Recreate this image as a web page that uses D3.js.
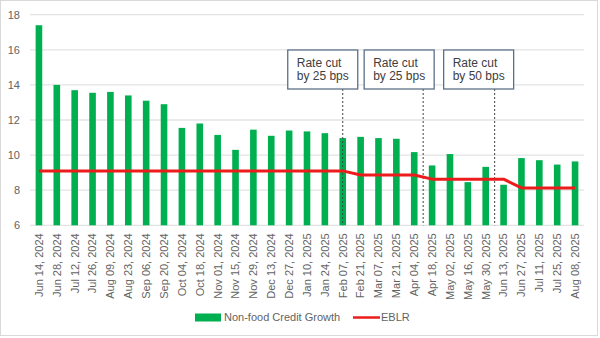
<!DOCTYPE html>
<html><head><meta charset="utf-8">
<script src="https://cdn.jsdelivr.net/npm/d3@7"></script>
<style>body{margin:0;background:#fff}svg{display:block}</style>
</head><body>
<script>
const categories = ["Jun 14, 2024","Jun 28, 2024","Jul 12, 2024","Jul 26, 2024","Aug 09, 2024","Aug 23, 2024","Sep 06, 2024","Sep 20, 2024","Oct 04, 2024","Oct 18, 2024","Nov 01, 2024","Nov 15, 2024","Nov 29, 2024","Dec 13, 2024","Dec 27, 2024","Jan 10, 2025","Jan 24, 2025","Feb 07, 2025","Feb 21, 2025","Mar 07, 2025","Mar 21, 2025","Apr 04, 2025","Apr 18, 2025","May 02, 2025","May 16, 2025","May 30, 2025","Jun 13, 2025","Jun 27, 2025","Jul 11, 2025","Jul 25, 2025","Aug 08, 2025"];
const creditGrowth = [17.4,14.0,13.7,13.55,13.6,13.4,13.1,12.9,11.55,11.8,11.15,10.3,11.45,11.1,11.4,11.35,11.25,10.97,11.04,10.97,10.93,10.17,9.41,10.06,8.46,9.33,8.31,9.83,9.71,9.46,9.64];
const eblr = [9.1,9.1,9.1,9.1,9.1,9.1,9.1,9.1,9.1,9.1,9.1,9.1,9.1,9.1,9.1,9.1,9.1,9.1,8.87,8.87,8.87,8.87,8.63,8.63,8.63,8.63,8.63,8.13,8.13,8.13,8.13];
const yTicks = [6,8,10,12,14,16,18];
const seriesNames = ["Non-food Credit Growth","EBLR"];
const annotations = [
  {cat:"Feb 07, 2025", frac:0.5, lines:["Rate cut","by 25 bps"]},
  {cat:"Apr 18, 2025", frac:0.0, lines:["Rate cut","by 25 bps"]},
  {cat:"Jun 13, 2025", frac:0.0, lines:["Rate cut","by 50 bps"]}
];
// layout (box offsets relative to the cut line)
const boxLeftOffsets = [-55, -59, -51];

const W=600,H=338;
const svg=d3.select("body").append("svg").attr("width",W).attr("height",H);
svg.append("rect").attr("x",0.5).attr("y",0.5).attr("width",597).attr("height",335)
  .attr("fill","#fff").attr("stroke","#d9d9d9");

const x=d3.scaleBand().domain(categories).range([30,584]).padding(0);
const y=d3.scaleLinear().domain([6,18]).range([225.3,14.7]);
const font="'Liberation Sans', Arial, sans-serif";
const gray="#636363";

// gridlines
svg.append("g").selectAll("line").data(yTicks).join("line")
  .attr("x1",30).attr("x2",584).attr("y1",d=>y(d)).attr("y2",d=>y(d))
  .attr("stroke","#e3e3e3").attr("stroke-width",1.3);

// y axis
const yAxis=svg.append("g").attr("transform","translate(30,0)")
  .call(d3.axisLeft(y).tickValues(yTicks).tickSize(0).tickPadding(10));
yAxis.select(".domain").remove();
yAxis.selectAll("text").attr("fill",gray).style("font-family",font).style("font-size","11px");

// x axis labels
const xAxis=svg.append("g").attr("transform","translate(0,"+y(6)+")")
  .call(d3.axisBottom(x).tickSize(0).tickPadding(0));
xAxis.select(".domain").remove();
xAxis.selectAll("text").attr("fill",gray).style("font-family",font).style("font-size","11px")
  .attr("text-anchor","end").attr("transform","rotate(-90)")
  .attr("x",-8).attr("y",0).attr("dy","0.35em");

// bars
const bw=x.step()*0.37;
svg.append("g").selectAll("rect").data(categories).join("rect")
  .attr("x",(d)=>x(d)+x.bandwidth()/2-bw/2)
  .attr("width",bw)
  .attr("y",(d,i)=>y(creditGrowth[i]))
  .attr("height",(d,i)=>y(6)-y(creditGrowth[i]))
  .attr("fill","#00b050");

// annotations
annotations.forEach((a,i)=>{
  const lx=x(a.cat)+x.step()*a.frac;
  const bx=lx+boxLeftOffsets[i];
  svg.append("line").attr("x1",lx).attr("x2",lx).attr("y1",89).attr("y2",y(6))
    .attr("stroke","#404040").attr("stroke-width",1).attr("stroke-dasharray","2,2");
  svg.append("rect").attr("x",bx).attr("y",50).attr("width",70).attr("height",39)
    .attr("fill","#fff").attr("stroke","#5b7088").attr("stroke-width",1.3);
  const t=svg.append("text").attr("x",bx+9).attr("y",66.5)
    .attr("fill","#404040").style("font-family",font).style("font-size","12px");
  a.lines.forEach((l,j)=>t.append("tspan").attr("x",bx+9).attr("dy",j?13.5:0).text(l));
});

// EBLR line
const line=d3.line().x((d,i)=>x(categories[i])+x.bandwidth()/2).y(d=>y(d));
svg.append("path").datum(eblr).attr("d",line).attr("fill","none")
  .attr("stroke","#ec1c1c").attr("stroke-width",3).attr("stroke-linejoin","round");

// legend
const lg=svg.append("g");
lg.append("rect").attr("x",195).attr("y",313.5).attr("width",26).attr("height",8).attr("fill","#00b050");
lg.append("text").attr("x",224).attr("y",317.5).attr("dy","0.35em").attr("fill",gray)
  .style("font-family",font).style("font-size","11px").text(seriesNames[0]);
lg.append("line").attr("x1",353).attr("x2",380).attr("y1",317.5).attr("y2",317.5)
  .attr("stroke","#ec1c1c").attr("stroke-width",2.5);
lg.append("text").attr("x",381).attr("y",317.5).attr("dy","0.35em").attr("fill",gray)
  .style("font-family",font).style("font-size","11px").text(seriesNames[1]);
</script>
</body></html>
